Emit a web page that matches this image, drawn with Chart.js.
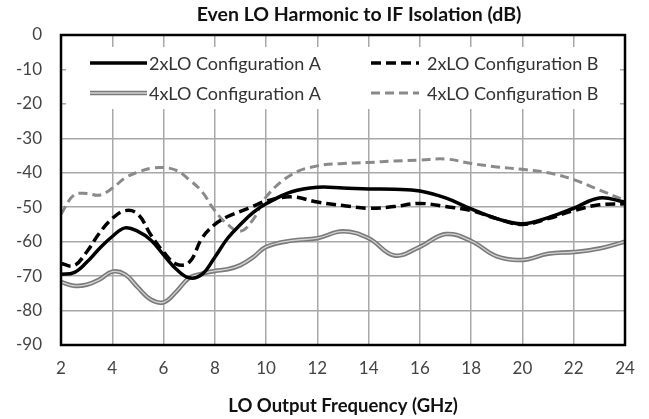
<!DOCTYPE html>
<html>
<head>
<meta charset="utf-8">
<script src="https://cdn.jsdelivr.net/npm/chart.js@4.4.1/dist/chart.umd.min.js"></script>
<style>
    html, body { margin: 0; padding: 0; background: #fff; }
    #wrap { width: 649px; height: 419px; }
</style>
</head>
<body>
<div id="wrap"><canvas id="lo_isolation_chart" width="649" height="419"></canvas></div>
<script>
// LO output frequency sample points (GHz)
const freqGHz = [2, 2.5, 3, 3.5, 4, 4.5, 5, 5.5, 6, 6.5, 7, 7.5, 8, 8.5, 9, 9.5, 10,
    11, 12, 13, 14, 15, 16, 17, 18, 19, 20, 21, 22, 23, 24];

// isolation values (dB), one per frequency point
const lo2xConfigA = [-69.5, -69, -66, -62, -58.5, -56, -57, -59.5, -63.8, -68, -70.5, -69.5, -64.5,
    -59, -55, -51.5, -49, -45.5, -44.2, -44.4, -44.7, -44.8, -45.3, -47.3, -50.5, -53.3, -54.8,
    -53, -50.3, -47.3, -48.5];
const lo2xConfigB = [-66.3, -67, -63, -57.5, -53.3, -51, -52, -58, -63, -66.5, -66, -59, -55,
    -52.7, -51.2, -49.7, -48.2, -47, -48.5, -49.5, -50.3, -49.8, -48.9, -49.8, -51, -53.3, -55,
    -53.3, -51, -49.3, -49];
const lo4xConfigA = [-71.7, -72.8, -72.5, -71, -68.7, -69.5, -73.3, -76.8, -77.6, -74.5, -70.5,
    -69.3, -68.5, -68, -66.8, -64.5, -61.5, -59.7, -59, -57, -59, -64, -61.5, -57.8, -59.8, -64.3,
    -65.3, -63.5, -63, -62, -60];
const lo4xConfigB = [-52, -46.5, -46, -46.5, -44.5, -41.5, -39.8, -38.7, -38.5, -39.3, -42, -45.5,
    -51, -55, -57, -53.5, -47, -40.5, -38, -37.3, -37, -36.6, -36.3, -36, -37.3, -38.3, -39,
    -40, -42, -45, -48];

const xTickStep = 2;
const yTickStep = 10;
const chartTitle = 'Even LO Harmonic to IF Isolation (dB)';

function toPoints(values) {
    return freqGHz.map(function (f, i) { return {x: f, y: values[i]}; });
}

const fontFamily = 'Lato, "Open Sans", sans-serif';

// title above the plot, white box behind the legend, two-column legend, plot frame
const legendAndFrame = {
    id: 'legendAndFrame',
    afterDraw: function (chart) {
        var ctx = chart.ctx,
            area = chart.chartArea;
        ctx.save();

        ctx.font = 'bold 19.5px ' + fontFamily;
        ctx.fillStyle = '#111';
        ctx.textAlign = 'center';
        ctx.textBaseline = 'middle';
        ctx.fillText(chartTitle, (area.left + area.right) / 2 + 16, 15);

        ctx.fillStyle = '#fff';
        ctx.fillRect(area.left + 5, area.top + 12, area.right - area.left - 10, 62);

        var cols = [{x0: 29, x1: 86, tx: 88}, {x0: 310, x1: 358, tx: 366}],
            rows = [28, 58];
        ctx.font = '18px ' + fontFamily;
        ctx.textAlign = 'left';
        ctx.fillStyle = '#333';
        var n = 0;
        chart.data.datasets.forEach(function (ds) {
            if (ds.legendSkip) return;
            var c = cols[n % 2], y = area.top + rows[Math.floor(n / 2)];
            ctx.beginPath();
            ctx.setLineDash(ds.borderDash || []);
            ctx.strokeStyle = ds.borderColor;
            ctx.lineWidth = ds.borderWidth;
            ctx.moveTo(area.left + c.x0, y);
            ctx.lineTo(area.left + c.x1, y);
            ctx.stroke();
            if (ds.innerColor) {
                ctx.beginPath();
                ctx.strokeStyle = ds.innerColor;
                ctx.lineWidth = 1.3;
                ctx.moveTo(area.left + c.x0, y);
                ctx.lineTo(area.left + c.x1, y);
                ctx.stroke();
            }
            ctx.setLineDash([]);
            ctx.fillText(ds.label, area.left + c.tx, y + 1);
            n++;
        });

        ctx.strokeStyle = '#000';
        ctx.lineWidth = 2.5;
        ctx.strokeRect(area.left, area.top, area.right - area.left, area.bottom - area.top);
        ctx.restore();
    }
};

const isolationData = {
    datasets: [{
        label: '2xLO Configuration A',
        data: toPoints(lo2xConfigA),
        borderColor: '#000',
        borderWidth: 3.5,
        order: 1
    }, {
        label: '2xLO Configuration B',
        data: toPoints(lo2xConfigB),
        borderColor: '#000',
        borderWidth: 3.5,
        borderDash: [10, 5],
        order: 2
    }, {
        label: '4xLO Configuration A',
        data: toPoints(lo4xConfigA),
        borderColor: '#7a7a7a',
        innerColor: '#d4d4d4',
        borderWidth: 4.5,
        order: 4
    }, {
        label: '4xLO Configuration B',
        data: toPoints(lo4xConfigB),
        borderColor: '#8a8a8a',
        borderWidth: 3,
        borderDash: [9, 5],
        order: 5
    }, {
        // light core of the double line for 4xLO A
        label: '4xLO Configuration A (core)',
        legendSkip: true,
        data: toPoints(lo4xConfigA),
        borderColor: '#d4d4d4',
        borderWidth: 1.3,
        order: 3
    }]
};

const isolationConfig = {
    type: 'line',
    data: isolationData,
    options: {
        responsive: false,
        animation: false,
        layout: {padding: {top: 35, right: 24, bottom: 0, left: 0}},
        elements: {
            point: {radius: 0},
            line: {tension: 0.4, fill: false}
        },
        plugins: {
            legend: {display: false},
            tooltip: {enabled: false},
            title: {display: false}
        },
        scales: {
            x: {
                type: 'linear',
                min: 2,
                max: 24,
                afterFit: function (scale) { scale.height = 74; },
                ticks: {
                    stepSize: xTickStep,
                    padding: 13,
                    color: '#444',
                    font: {family: fontFamily, size: 17}
                },
                grid: {color: '#a8a8a8', lineWidth: 1.5, drawTicks: false},
                border: {display: false},
                title: {
                    display: true,
                    text: 'LO Output Frequency (GHz)',
                    color: '#111',
                    font: {family: fontFamily, size: 18.5, weight: 'bold'},
                    padding: {top: 0, bottom: 2}
                }
            },
            y: {
                min: -90,
                max: 0,
                afterFit: function (scale) { scale.width = 61; },
                ticks: {
                    stepSize: yTickStep,
                    padding: 19,
                    color: '#444',
                    font: {family: fontFamily, size: 17}
                },
                grid: {color: '#a8a8a8', lineWidth: 1.5, drawTicks: false},
                border: {display: false}
            }
        }
    },
    plugins: [legendAndFrame]
};

const lo_isolation_chart = new Chart(
    document.getElementById('lo_isolation_chart'),
    isolationConfig
);
</script>
</body>
</html>
